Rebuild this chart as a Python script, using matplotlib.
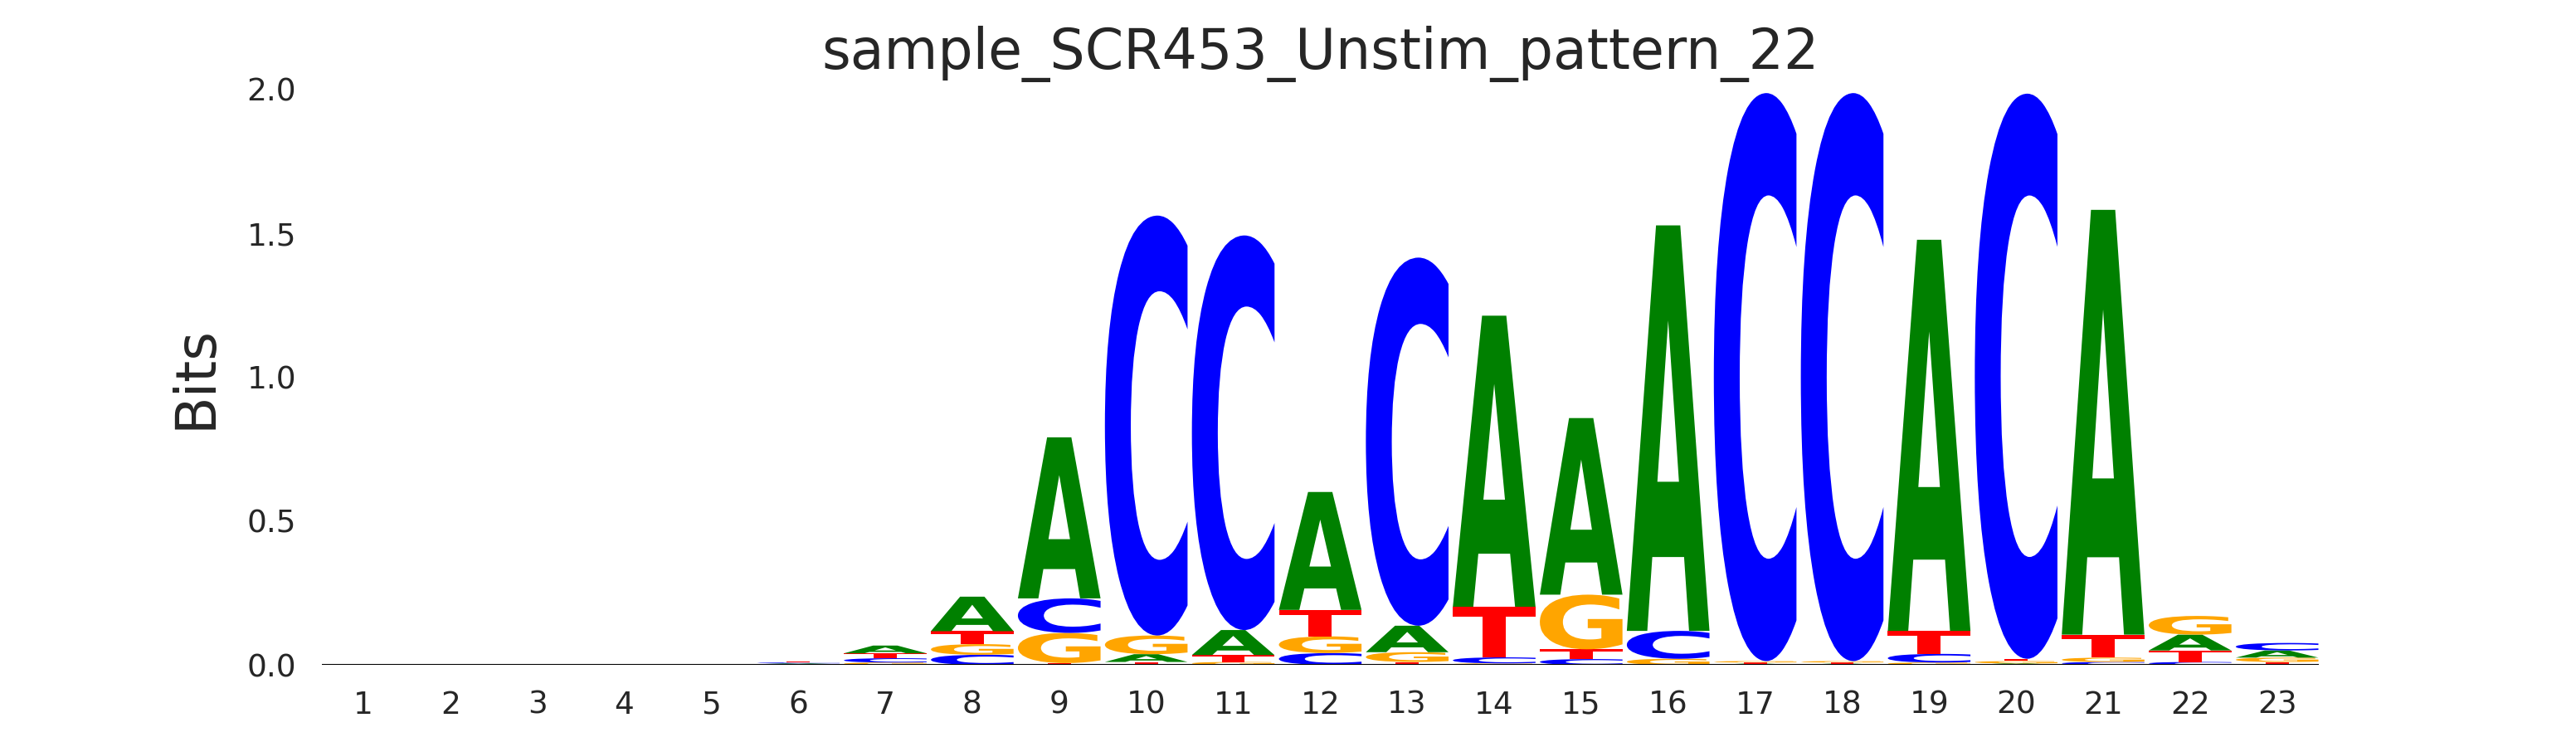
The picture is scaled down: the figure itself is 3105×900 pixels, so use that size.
import matplotlib
matplotlib.use("Agg")
import matplotlib.pyplot as plt
from matplotlib.textpath import TextPath
from matplotlib.patches import PathPatch
from matplotlib.font_manager import FontProperties
from matplotlib.transforms import Affine2D

title = "sample_SCR453_Unstim_pattern_22"
positions = list(range(1, 24))

# information (bits) per base at each position
bits_A = [0.0, 0.0, 0.0, 0.0, 0.0, 0.003, 0.027, 0.120, 0.560, 0.027, 0.087, 0.410,
          0.092, 1.012, 0.614, 1.410, 0.004, 0.004, 1.360, 0.005, 1.477, 0.055, 0.025]
bits_C = [0.0, 0.0, 0.0, 0.0, 0.0, 0.003, 0.015, 0.035, 0.120, 1.460, 1.372, 0.041,
          1.280, 0.021, 0.020, 0.097, 1.975, 1.975, 0.030, 1.965, 0.010, 0.010, 0.026]
bits_G = [0.0, 0.0, 0.0, 0.0, 0.0, 0.002, 0.008, 0.037, 0.105, 0.065, 0.010, 0.058,
          0.034, 0.005, 0.190, 0.021, 0.005, 0.005, 0.008, 0.008, 0.015, 0.065, 0.015]
bits_T = [0.0, 0.0, 0.0, 0.0, 0.0, 0.003, 0.017, 0.045, 0.006, 0.010, 0.024, 0.092,
          0.010, 0.176, 0.034, 0.0, 0.004, 0.004, 0.080, 0.008, 0.080, 0.040, 0.010]

colors = {"A": "green", "C": "blue", "G": "orange", "T": "red"}
font = FontProperties(family="DejaVu Sans", weight="bold")
width = 0.95


def draw_glyph(ax, char, x, floor, height):
    path = TextPath((0, 0), char, size=1, prop=font)
    ext = path.get_extents()
    tr = (Affine2D()
          .translate(-ext.xmin, -ext.ymin)
          .scale(width / ext.width, height / ext.height)
          .translate(x - width / 2, floor))
    ax.add_patch(PathPatch(tr.transform_path(path), facecolor=colors[char],
                           edgecolor="none"))


fig, ax = plt.subplots(figsize=(10.35, 3), dpi=300)

for i, p in enumerate(positions):
    col = {"A": bits_A[i], "C": bits_C[i], "G": bits_G[i], "T": bits_T[i]}
    floor = 0.0
    for ch, h in sorted(col.items(), key=lambda kv: kv[1]):
        if h <= 0:
            continue
        draw_glyph(ax, ch, p, floor, h)
        floor += h

ax.axhline(0, color="black", lw=0.5, zorder=5)
ax.set_xlim(positions[0] - width / 2, positions[-1] + width / 2)
ax.set_ylim(0, 2)
ax.set_xticks(positions)
ax.set_yticks([0, 0.5, 1.0, 1.5, 2.0])
ax.set_yticklabels(["0.0", "0.5", "1.0", "1.5", "2.0"])
for s in ax.spines.values():
    s.set_visible(False)
ax.tick_params(length=0, pad=7.4, labelsize=9, labelcolor="#262626")
ax.set_ylabel("Bits", fontsize=16, color="#262626", labelpad=7)
ax.set_title(title, fontsize=16, color="#262626")

plt.savefig("out.png", dpi=300)
plt.close()
